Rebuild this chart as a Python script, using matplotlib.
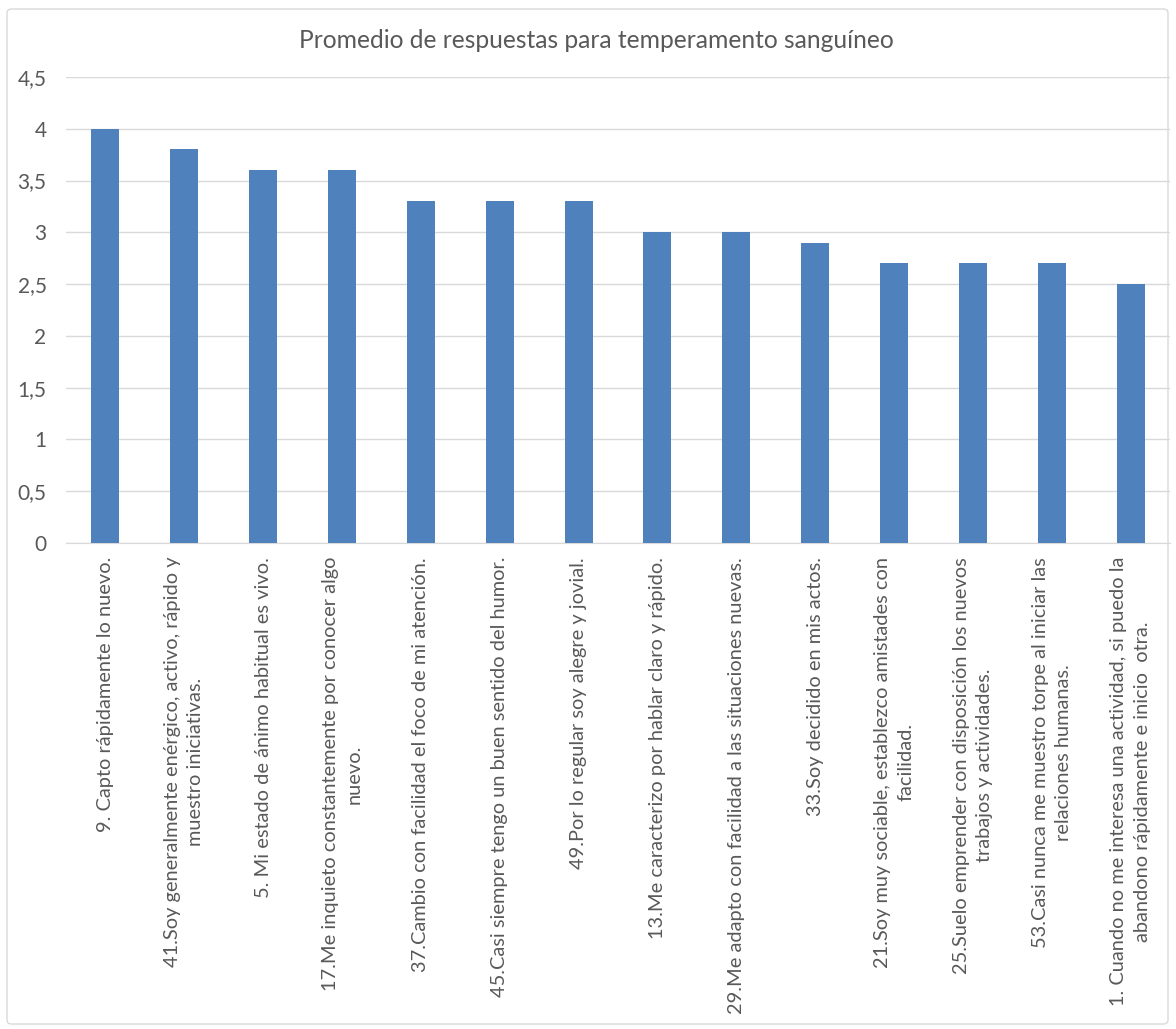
import matplotlib
matplotlib.use("Agg")
import matplotlib.pyplot as plt
from matplotlib.patches import FancyBboxPatch

# datos del gráfico
labels = [
    "9. Capto rápidamente lo nuevo.",
    "41.Soy generalmente enérgico, activo, rápido y\nmuestro iniciativas.",
    "5. Mi estado de ánimo habitual es vivo.",
    "17.Me inquieto constantemente por conocer algo\nnuevo.",
    "37.Cambio con facilidad el foco de mi atención.",
    "45.Casi siempre tengo un buen sentido del humor.",
    "49.Por lo regular soy alegre y jovial.",
    "13.Me caracterizo por hablar claro y rápido.",
    "29.Me adapto con facilidad a las situaciones nuevas.",
    "33.Soy decidido en mis actos.",
    "21.Soy muy sociable, establezco amistades con\nfacilidad.",
    "25.Suelo emprender con disposición los nuevos\ntrabajos y actividades.",
    "53.Casi nunca me muestro torpe al iniciar las\nrelaciones humanas.",
    "1. Cuando no me interesa una actividad, si puedo la\nabandono rápidamente e inicio  otra.",
]
values = [4.0, 3.8, 3.6, 3.6, 3.3, 3.3, 3.3, 3.0, 3.0, 2.9, 2.7, 2.7, 2.7, 2.5]
y_ticks = [0, 0.5, 1, 1.5, 2, 2.5, 3, 3.5, 4, 4.5]
y_tick_labels = ["0", "0,5", "1", "1,5", "2", "2,5", "3", "3,5", "4", "4,5"]

text_color = "#595959"
plt.rcParams["font.family"] = ["Lato", "DejaVu Sans"]

W, H = 1176, 1029
fig = plt.figure(figsize=(W / 100, H / 100), dpi=100)

# marco del gráfico
fig.patches.append(FancyBboxPatch((7 / W, 5 / H), 1161 / W, 1015 / H,
                                  boxstyle="round,pad=0,rounding_size=0.004",
                                  transform=fig.transFigure, fill=False,
                                  edgecolor="#D9D9D9", linewidth=1))

ax = fig.add_axes([66 / W, 1 - 543 / H, 1104 / W, 466 / H])
x = list(range(len(values)))
ax.bar(x, values, width=0.355, color="#4F81BD", zorder=3)

ax.set_xlim(-0.5, len(values) - 0.5)
ax.set_ylim(0, 4.5)
ax.set_yticks(y_ticks)
ax.set_yticklabels(y_tick_labels, fontsize=15, color=text_color)
ax.set_xticks(x)
ax.set_xticklabels(labels, rotation=90, ha="center", va="top",
                   multialignment="center", fontsize=14.4, color=text_color,
                   linespacing=1.45)
ax.tick_params(axis="both", length=0)
ax.tick_params(axis="y", pad=14)
ax.tick_params(axis="x", pad=10)
ax.grid(axis="y", color="#D9D9D9", linewidth=1, zorder=0)
for s in ["top", "right", "left"]:
    ax.spines[s].set_visible(False)
ax.spines["bottom"].set_color("#D9D9D9")

fig.text(596 / W, 1 - 40 / H, "Promedio de respuestas para temperamento sanguíneo",
         ha="center", va="center", fontsize=17.7, color=text_color)

fig.savefig("out.png", dpi=100)
